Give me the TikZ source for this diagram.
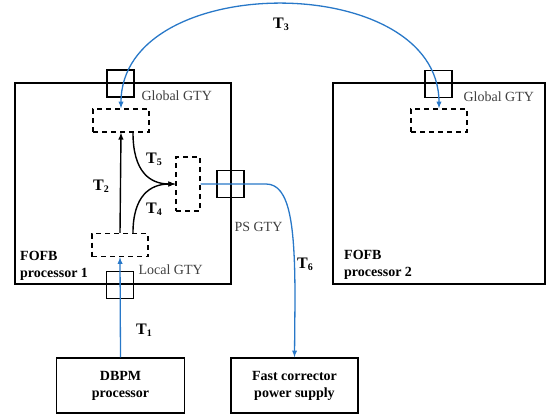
\documentclass[tikz,border=0pt]{standalone}
\usepackage{fontspec}
\setmainfont{Liberation Serif}
\definecolor{linkblue}{RGB}{40,120,200}
\newcommand{\tlab}[1]{\textbf{T\raisebox{-0.3ex}{\fontsize{10}{12}\selectfont #1}}}

\begin{document}
\begin{tikzpicture}[x=1pt, y=-1pt, >=latex,
    every node/.style={font=\fontsize{14}{17}\selectfont},
    board/.style={draw, line width=1.5pt, minimum height=201pt},
    gty/.style={draw, dash pattern=on 5pt off 4pt, line width=1.3pt, minimum width=56pt, minimum height=23pt},
    port/.style={draw, line width=1.4pt, minimum size=27pt},
    unit/.style={draw, line width=1.5pt, minimum width=128pt, minimum height=55pt, align=center, font=\fontsize{14}{17}\selectfont\bfseries},
    link/.style={linkblue, line width=1.3pt, ->},
    inlink/.style={line width=1.4pt, ->},
    gtytext/.style={anchor=west, text=black!75, font=\fontsize{14}{17}\selectfont},
    tname/.style={font=\fontsize{16}{18}\selectfont},
    boardtext/.style={anchor=north west, inner sep=0pt, align=left, font=\fontsize{14}{17}\selectfont\bfseries}]
    \useasboundingbox (0,0) rectangle (547,416);

    % processor boards
    \node[board, minimum width=216pt] (fofbA) at (123,183.5) {};
    \node[board, minimum width=212pt] (fofbB) at (439,183.5) {};
    \node[boardtext] (nameA) at (20,251) {FOFB\\processor 1};
    \node[boardtext] (nameB) at (344,250) {FOFB\\processor 2};

    % transceivers
    \node[gty] (globA) at (121,120.5) {};
    \node[gty] (globB) at (439,120.5) {};
    \node[gty] (local) at (120,245) {};
    \node[gty, minimum width=24pt, minimum height=54pt] (mid) at (188,184) {};

    % ports on the board edges
    \node[port] (portA) at (120.5,83.5) {};
    \node[port] (portB) at (438.5,84) {};
    \node[port] (portC) at (120,285) {};
    \node[port] (portD) at (230.5,184) {};

    \node[gtytext] (tglobA) at (138,96) {Global GTY};
    \node[gtytext] (tglobB) at (460,97) {Global GTY};
    \node[gtytext] (tlocal) at (135,270) {Local GTY};
    \node[gtytext] (tps) at (231,227) {PS GTY};

    % external units
    \node[unit] (dbpm) at (120.5,385.5) {DBPM\\processor};
    \node[unit, minimum width=127pt] (fc) at (294.5,385.5) {Fast corrector\\power supply};

    % links
    \draw[link, <->] (globA.north) .. controls (121,-30) and (439,-30) .. (globB.north);
    \draw[link] (dbpm.north) -- (local.south);
    \coordinate (bend) at (266,184);
    \draw[link] (mid.east) -- (bend) .. controls (290,184) and (295,225) .. (295,300) -- (fc.north);

    \draw[inlink] (local.north) -- (globA.south);
    \draw[inlink] ([xshift=12pt]globA.south) .. controls (133,172) and (150,184) .. (mid.west);
    \draw[inlink] ([xshift=13pt]local.north) .. controls (133,196) and (150,184) .. (mid.west);

    \node[tname] (t1) at (144,330) {\tlab{1}};
    \node[tname] (t2) at (101,186) {\tlab{2}};
    \node[tname] (t3) at (281,24) {\tlab{3}};
    \node[tname] (t4) at (154,209) {\tlab{4}};
    \node[tname] (t5) at (154,159) {\tlab{5}};
    \node[tname] (t6) at (305,264) {\tlab{6}};
\end{tikzpicture}
\end{document}
